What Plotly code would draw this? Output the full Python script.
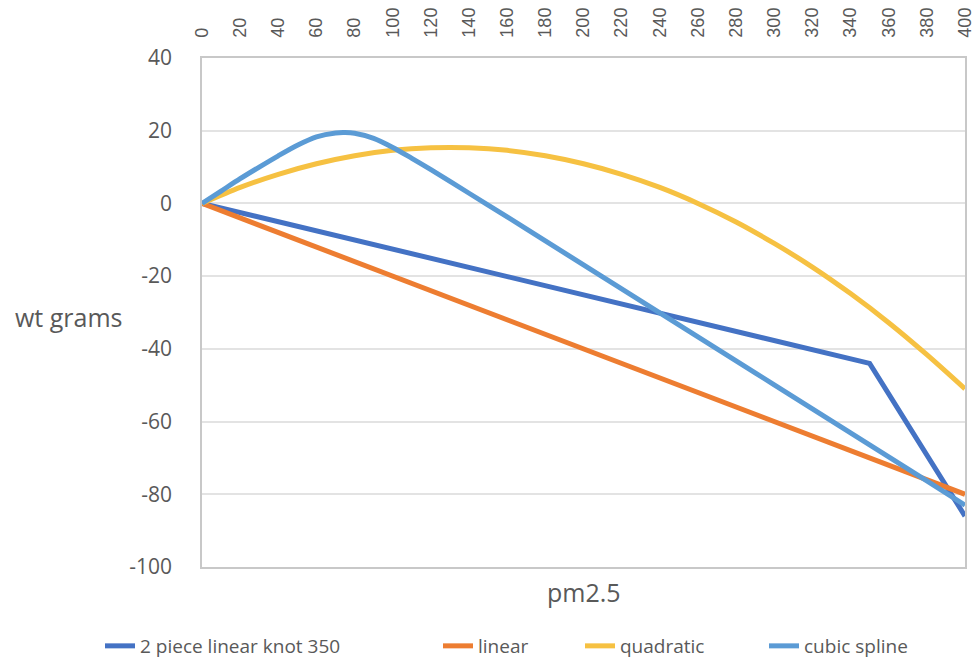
import plotly.graph_objects as go

# x values (pm2.5) and predicted weight change (grams)
x_knot = [0, 350, 400]
y_knot = [0, -44, -86]

x_linear = [0, 400]
y_linear = [0, -80]

x_quad = [0, 20, 40, 60, 80, 100, 120, 140, 160, 180, 200, 220, 240, 260, 280, 300, 320, 340, 360, 380, 400]
y_quad = [0, 4.4, 8.0, 10.9, 13.1, 14.6, 15.3, 15.3, 14.6, 13.1, 10.9, 8.0, 4.4, 0, -5.1, -11.0, -17.5, -24.8, -32.8, -41.6, -51.0]

x_cubic = [0, 10, 20, 30, 40, 50, 60, 70, 75, 80, 90, 100, 110, 120, 140, 160, 180, 200, 220, 240, 260, 280, 300, 320, 340, 360, 380, 400]
y_cubic = [0, 3.4, 6.8, 10.0, 13.1, 16.0, 18.3, 19.4, 19.5, 19.3, 17.9, 15.4, 12.4, 9.3, 2.8, -3.7, -10.3, -16.9, -23.5, -30.1, -36.7, -43.3, -49.9, -56.5, -63.1, -69.7, -76.3, -83.0]

series_names = ["2 piece linear knot 350", "linear", "quadratic", "cubic spline"]
colors = ["#4472C4", "#ED7D31", "#F6C142", "#5B9BD5"]

x_ticks = list(range(0, 401, 20))
y_ticks = list(range(-100, 41, 20))

W, H = 976, 664
legend_ids = ["legend", "legend2", "legend3", "legend4"]
legend_x_px = [100, 438, 580, 764]

fig = go.Figure()
data = [(x_knot, y_knot, "linear"), (x_linear, y_linear, "linear"),
        (x_quad, y_quad, "spline"), (x_cubic, y_cubic, "spline")]
for (xs, ys, shape), name, c, lid in zip(data, series_names, colors, legend_ids):
    fig.add_trace(go.Scatter(x=xs, y=ys, mode="lines", name=name, legend=lid,
                             line=dict(color=c, width=5, shape=shape, smoothing=0.8)))

font_main = "'Open Sans', Lato, sans-serif"
legend_common = dict(orientation="h", xanchor="left", xref="container",
                     y=(H - 646) / H, yanchor="middle", yref="container",
                     font=dict(family=font_main, size=19, color="#595959"),
                     bgcolor="rgba(0,0,0,0)", borderwidth=0)
legends = {}
for lid, lx in zip(legend_ids, legend_x_px):
    legends[lid] = dict(x=lx / W, **legend_common)

fig.update_layout(
    width=W, height=H,
    margin=dict(l=202, r=11, t=58, b=97),
    paper_bgcolor="white", plot_bgcolor="white",
    font=dict(family=font_main, color="#595959", size=19),
    showlegend=True,
    **legends,
    xaxis=dict(range=[0, 400], side="top", tickmode="array", tickvals=x_ticks,
               ticktext=[str(v) for v in x_ticks], tickangle=-90, automargin=False,
               ticklabeloverflow="allow",
               tickfont=dict(family="'Liberation Sans', Arial, sans-serif", size=18, color="#595959"),
               showgrid=False, zeroline=False, showline=True, linecolor="#C8C8C8",
               linewidth=1.5, mirror=True, ticks="", ticklabelstandoff=15),
    yaxis=dict(range=[-100, 40], tickmode="array", tickvals=y_ticks,
               ticktext=[str(v) for v in y_ticks], automargin=False,
               ticklabeloverflow="allow",
               tickfont=dict(family=font_main, size=21, color="#595959"),
               showgrid=True, gridcolor="#E3E3E3", gridwidth=1.5, zeroline=False,
               showline=True, linecolor="#C8C8C8", linewidth=1.5, mirror=True,
               ticks="", ticklabelstandoff=24),
    annotations=[
        dict(text="wt grams", x=(13 - 202) / 763, xref="paper", xanchor="left",
             y=(567 - 316.7) / 509, yref="paper", yanchor="middle", showarrow=False,
             font=dict(family=font_main, size=25, color="#595959")),
        dict(text="pm2.5", x=0.5, xref="paper", xanchor="center",
             y=(567 - 592) / 509, yref="paper", yanchor="middle", showarrow=False,
             font=dict(family=font_main, size=25, color="#595959")),
    ],
)

fig.write_html("out.html", config={"displayModeBar": False},
               post_script="document.body.style.margin='0';document.body.style.overflow='hidden';")
